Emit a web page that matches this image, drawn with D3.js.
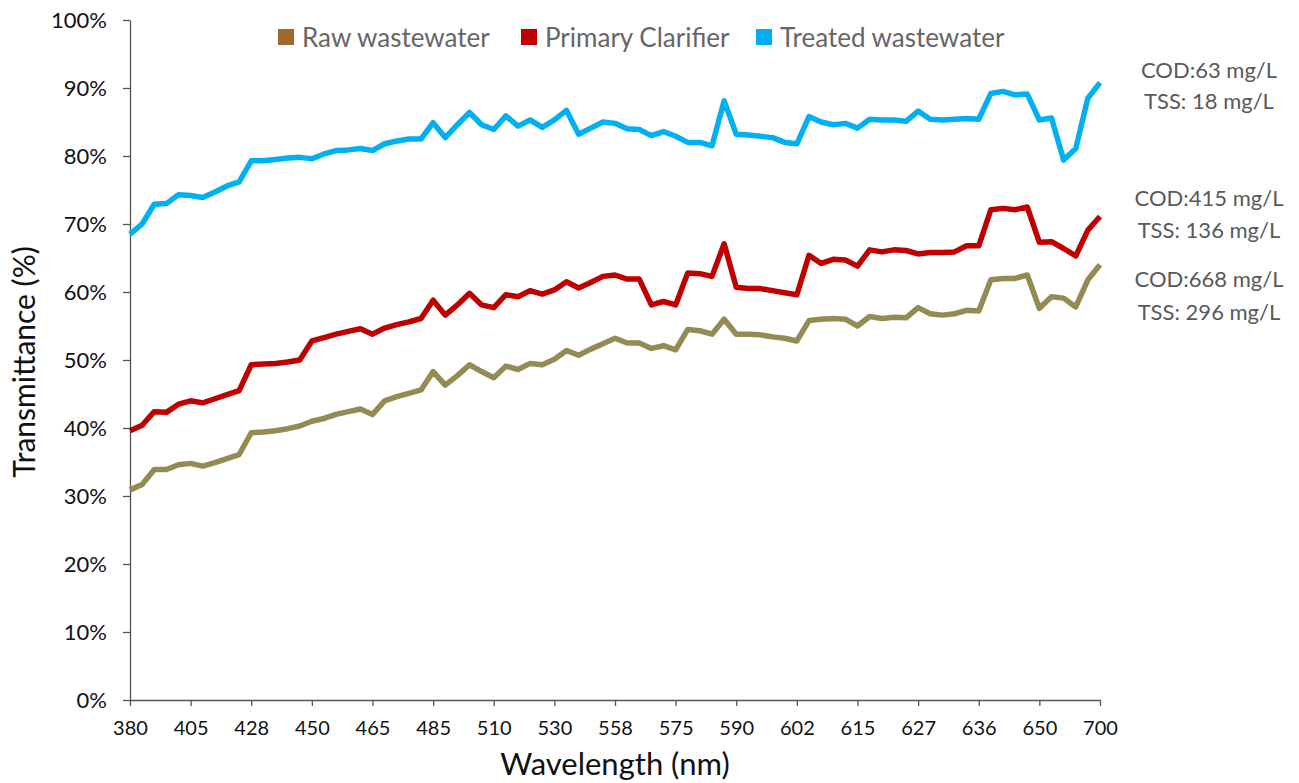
<!DOCTYPE html>
<html>
<head>
<meta charset="utf-8">
<script src="https://cdn.jsdelivr.net/npm/d3@7"></script>
<style>
  body { margin: 0; background: #fff; }
  svg text { font-family: Lato, "Open Sans", sans-serif; }
</style>
</head>
<body>
<div id="chart"></div>
<script>
// tick labels on the wavelength axis (one every 5 samples)
const tickLabels = [380, 405, 428, 450, 465, 485, 510, 530, 558, 575, 590, 602, 615, 627, 636, 650, 700];

// transmittance (%) per sample, 81 samples
const raw = [30.9, 31.7, 33.9, 33.9, 34.6, 34.8, 34.4, 34.9, 35.5, 36.1,
  39.3, 39.4, 39.6, 39.9, 40.3, 41.0, 41.4, 42.0, 42.4, 42.8,
  42.0, 44.0, 44.6, 45.1, 45.6, 48.3, 46.3, 47.7, 49.3, 48.3,
  47.4, 49.1, 48.6, 49.5, 49.3, 50.1, 51.4, 50.7, 51.6, 52.4,
  53.2, 52.5, 52.5, 51.7, 52.1, 51.5, 54.5, 54.3, 53.8, 56.0,
  53.8, 53.8, 53.7, 53.4, 53.2, 52.8, 55.8, 56.0, 56.1, 56.0,
  55.0, 56.4, 56.1, 56.3, 56.2, 57.7, 56.8, 56.6, 56.8, 57.3,
  57.2, 61.8, 62.0, 62.0, 62.5, 57.6, 59.3, 59.1, 57.8, 61.8, 64.0];

const primary = [39.6, 40.4, 42.4, 42.3, 43.5, 44.0, 43.7, 44.3, 44.9, 45.5,
  49.3, 49.4, 49.5, 49.7, 50.0, 52.8, 53.3, 53.8, 54.2, 54.6,
  53.8, 54.7, 55.2, 55.6, 56.1, 58.8, 56.6, 58.1, 59.8, 58.1,
  57.7, 59.6, 59.3, 60.2, 59.7, 60.3, 61.5, 60.6, 61.4, 62.3,
  62.5, 61.9, 61.9, 58.1, 58.6, 58.1, 62.8, 62.7, 62.3, 67.1,
  60.7, 60.5, 60.5, 60.2, 59.9, 59.6, 65.4, 64.2, 64.8, 64.7,
  63.8, 66.2, 65.9, 66.2, 66.1, 65.6, 65.8, 65.8, 65.9, 66.8,
  66.8, 72.1, 72.3, 72.1, 72.5, 67.3, 67.4, 66.4, 65.3, 69.1, 71.1];

const treated = [68.5, 70.0, 72.9, 73.0, 74.3, 74.2, 73.9, 74.7, 75.6, 76.2,
  79.3, 79.3, 79.5, 79.7, 79.8, 79.6, 80.3, 80.8, 80.9, 81.1,
  80.8, 81.8, 82.2, 82.5, 82.5, 84.9, 82.7, 84.6, 86.4, 84.6,
  83.9, 85.9, 84.4, 85.3, 84.2, 85.3, 86.7, 83.2, 84.1, 85.0,
  84.8, 84.0, 83.9, 83.0, 83.6, 82.9, 82.0, 82.0, 81.5, 88.1,
  83.2, 83.1, 82.9, 82.7, 82.0, 81.8, 85.8, 85.0, 84.6, 84.8,
  84.1, 85.4, 85.3, 85.3, 85.1, 86.6, 85.4, 85.3, 85.4, 85.5,
  85.4, 89.2, 89.5, 89.0, 89.1, 85.3, 85.6, 79.4, 81.1, 88.5, 90.8];

const seriesNames = ["Raw wastewater", "Primary Clarifier", "Treated wastewater"];
const lineColors = ["#948a54", "#c00000", "#00b0f0"];
const legendColors = ["#a0672f", "#c00000", "#00b0f0"];

const notes = [
  ["COD:63 mg/L", "TSS: 18 mg/L"],
  ["COD:415 mg/L", "TSS: 136 mg/L"],
  ["COD:668 mg/L", "TSS: 296 mg/L"]
];

const w = 1299, h = 783;
const m = { left: 130, right: 1100, top: 20, bottom: 700 };

const svg = d3.select('#chart').append('svg')
  .attr('width', w).attr('height', h);

const x = d3.scaleLinear().domain([0, raw.length - 1]).range([m.left, m.right]);
const y = d3.scaleLinear().domain([0, 100]).range([m.bottom, m.top]);

// axes
const xAxis = d3.axisBottom(x)
  .tickValues(d3.range(0, raw.length, 5))
  .tickFormat((d, i) => tickLabels[i])
  .tickSize(6).tickSizeOuter(0);
const gx = svg.append('g').attr('transform', `translate(0,${m.bottom})`).call(xAxis);
gx.select('.domain').attr('stroke', '#555').attr('stroke-width', 1.3);
gx.selectAll('.tick line').attr('stroke', '#555').attr('stroke-width', 1.3);
gx.selectAll('.tick text').attr('font-size', 20).attr('fill', '#111').attr('y', 35).attr('dy', 0);

const yAxis = d3.axisLeft(y)
  .tickValues(d3.range(0, 101, 10))
  .tickFormat(d => d + '%')
  .tickSize(7).tickSizeOuter(0);
const gy = svg.append('g').attr('transform', `translate(${m.left},0)`).call(yAxis);
gy.select('.domain').attr('stroke', '#555').attr('stroke-width', 1.3);
gy.selectAll('.tick line').attr('stroke', '#555').attr('stroke-width', 1.3);
gy.selectAll('.tick text').attr('font-size', 22).attr('fill', '#111').attr('x', -23);

// lines
const line = d3.line().x((d, i) => x(i)).y(d => y(d));
[raw, primary, treated].forEach((s, k) => {
  svg.append('path')
    .datum(s)
    .attr('fill', 'none')
    .attr('stroke', lineColors[k])
    .attr('stroke-width', 5.5)
    .attr('stroke-linejoin', 'round')
    .attr('d', line);
});

// legend
const legendX = [278, 521, 756];
seriesNames.forEach((n, k) => {
  svg.append('rect').attr('x', legendX[k]).attr('y', 29).attr('width', 16).attr('height', 16)
    .attr('fill', legendColors[k]);
  svg.append('text').attr('x', legendX[k] + 24).attr('y', 47)
    .attr('font-size', 26).attr('fill', '#666').text(n);
});

// annotations
const noteY = [[78, 109], [206, 238], [287, 320]];
notes.forEach((pair, k) => {
  pair.forEach((t, j) => {
    svg.append('text').attr('x', 1209).attr('y', noteY[k][j])
      .attr('text-anchor', 'middle').attr('font-size', 22).attr('fill', '#595959').text(t);
  });
});

// axis titles
svg.append('text').attr('x', 615).attr('y', 775).attr('text-anchor', 'middle')
  .attr('font-size', 31).attr('fill', '#111').text('Wavelength (nm)');
svg.append('text').attr('transform', 'translate(35,362) rotate(-90)').attr('text-anchor', 'middle')
  .attr('font-size', 30).attr('fill', '#111').text('Transmittance (%)');
</script>
</body>
</html>
